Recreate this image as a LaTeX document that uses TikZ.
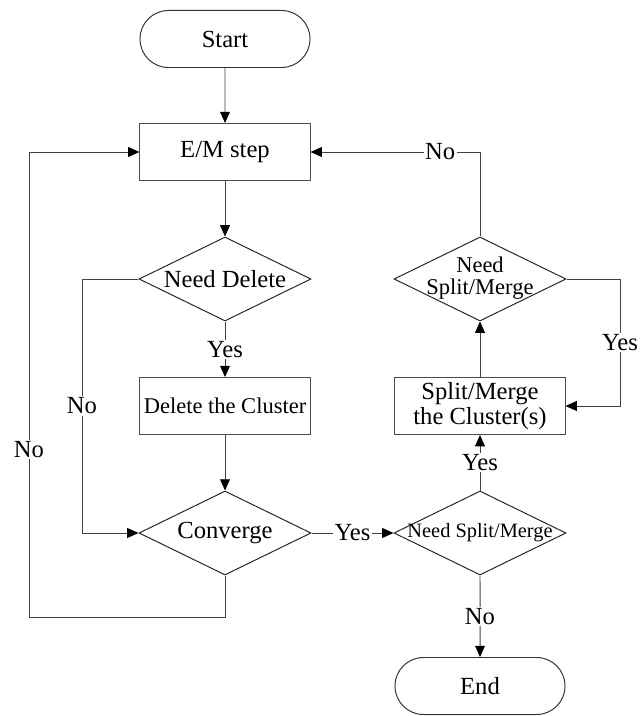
\documentclass[tikz,border=0pt]{standalone}
\usepackage{fontspec}
\setmainfont{Liberation Serif}
\usetikzlibrary{arrows.meta}
\usetikzlibrary{shapes.geometric}
\usetikzlibrary{shapes.misc}
\newcommand{\nowidth}[1]{\makebox[0pt]{#1}}

\begin{document}
\begin{tikzpicture}[x=0.025cm, y=-0.025cm,
  every node/.style={font=\fontsize{17.5}{18}\selectfont},
  terminal/.style={draw=black!80, line width=0.7pt, rounded rectangle,
    minimum width=4.25cm, minimum height=1.425cm, inner sep=0pt},
  process/.style={draw=black!70, line width=0.7pt, rectangle, align=center,
    minimum width=4.25cm, minimum height=1.425cm, inner sep=0pt},
  decision/.style={draw=black!85, line width=0.7pt, diamond, aspect=2,
    minimum width=4.3cm, minimum height=2.1cm, inner sep=0pt},
  lbl/.style={fill=white, inner sep=1pt},
  flow/.style={draw=black!75, line width=0.7pt,
    -{Triangle[length=8pt,width=7pt,color=black]}}]
\useasboundingbox (0,0) rectangle (642,716);

% nodes, left column
\node[terminal] (start) at (225,39) {Start};
\node[process] (em) at (225,152) {E/M step};
\node[decision] (nd) at (225,279) {\nowidth{Need Delete}};
\node[process] (del) at (225,406) {\fontsize{16}{18}\selectfont Delete the Cluster};
\node[decision] (conv) at (225,533) {\nowidth{Converge}};

% nodes, right column
\node[decision] (nsm) at (480,533) {\nowidth{\fontsize{14.5}{16}\selectfont Need Split/Merge}};
\node[process] (smc) at (480,406) {Split/Merge\\the Cluster(s)};
\node[decision] (nsu) at (480,279)
  {\nowidth{\fontsize{16}{15.5}\selectfont\begin{tabular}{@{}c@{}}Need\\Split/Merge\end{tabular}}};
\node[terminal] (end) at (480,686) {End};

% corner points
\coordinate (ndl) at (82,279);
\coordinate (cl) at (225,617);
\coordinate (ll) at (29,617);
\coordinate (rr) at (620,279);
\coordinate (tr) at (480,152);

% lines
\draw[flow] (start) -- (em);
\draw[flow] (em) -- (nd);
\draw[flow] (nd) -- node[lbl] {Yes} (del);
\draw[flow] (del) -- (conv);
\draw[flow] (nd.west) -- (ndl) -- node[lbl] {No} (ndl |- conv.west) -- (conv.west);
\draw[flow] (conv.south) -- (cl) -- (ll) -- node[lbl, pos=0.36] {No} (ll |- em.west) -- (em.west);
\draw[flow] (conv) -- node[lbl] {Yes} (nsm);
\draw[flow] (nsm) -- node[lbl] {Yes} (smc);
\draw[flow] (nsm) -- node[lbl] {No} (end);
\draw[flow] (smc) -- (nsu);
\draw[flow] (nsu.east) -- (rr) -- node[lbl] {Yes} (rr |- smc.east) -- (smc.east);
\draw[flow] (nsu.north) -- (tr) -- node[lbl, pos=0.235] {No} (em.east);
\end{tikzpicture}
\end{document}
